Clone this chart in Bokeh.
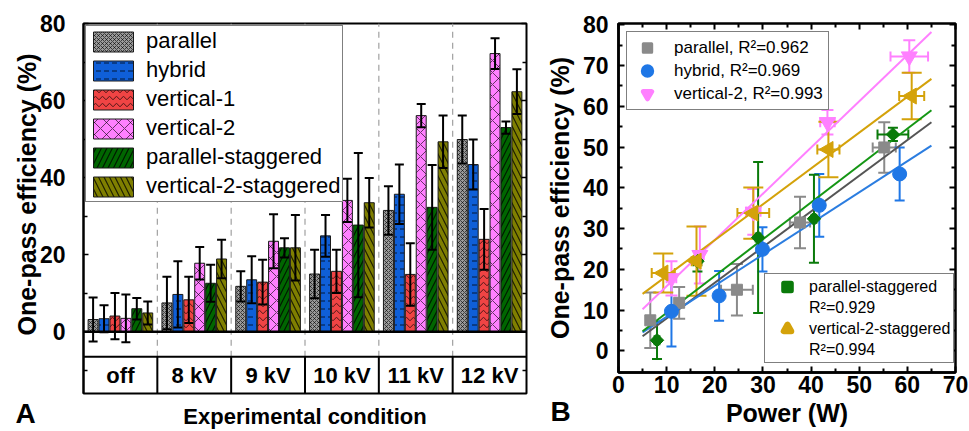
import numpy as np
from bokeh.plotting import figure
from bokeh.models import FixedTicker, LinearAxis, Legend, LegendItem, Span, Range1d, Title
from bokeh.layouts import row
from bokeh.embed import file_html
from bokeh.resources import INLINE
from bokeh.core.properties import value

# ---------------- Panel A data ----------------
categories = ["off", "8 kV", "9 kV", "10 kV", "11 kV", "12 kV"]
series = ["parallel", "hybrid", "vertical-1", "vertical-2",
          "parallel-staggered", "vertical-2-staggered"]
eff_parallel = [3.2, 7.5, 11.8, 15.0, 31.5, 49.9]
err_parallel = [5.7, 6.8, 3.9, 6.3, 6.3, 6.2]
eff_hybrid = [3.4, 9.7, 13.5, 24.9, 35.7, 43.4]
err_hybrid = [3.5, 8.6, 6.1, 5.4, 7.7, 6.5]
eff_vertical1 = [4.1, 8.3, 12.9, 15.7, 14.9, 24.0]
err_vertical1 = [6.0, 6.0, 5.8, 5.6, 8.1, 7.9]
eff_vertical2 = [3.5, 17.8, 23.5, 34.1, 56.1, 72.2]
err_vertical2 = [6.2, 4.2, 7.0, 5.6, 3.0, 4.0]
eff_par_stag = [6.0, 12.6, 21.8, 27.7, 32.3, 53.0]
err_par_stag = [2.8, 4.8, 2.5, 18.7, 11.0, 1.6]
eff_v2_stag = [4.9, 18.9, 21.8, 33.5, 49.3, 62.3]
err_v2_stag = [3.0, 5.0, 8.5, 6.4, 6.8, 5.8]

# ---------------- Panel B data ----------------
pw_parallel = [6.6, 12.6, 24.6, 37.7, 55.2]
pwerr_parallel = [0.5, 0.8, 3.3, 2.1, 2.4]
ef_parallel = [7.5, 11.8, 15.0, 31.5, 49.9]
eferr_parallel = [6.8, 3.9, 6.3, 6.3, 6.2]

pw_hybrid = [11.0, 20.9, 29.9, 41.7, 58.4]
pwerr_hybrid = [0.5, 0.5, 0.8, 0.5, 0.5]
ef_hybrid = [9.7, 13.5, 24.9, 35.7, 43.4]
eferr_hybrid = [8.6, 6.1, 5.4, 7.7, 6.5]

pw_vertical2 = [11.0, 16.9, 28.0, 43.4, 60.4]
pwerr_vertical2 = [1.0, 0.8, 1.5, 1.5, 3.9]
ef_vertical2 = [17.8, 23.5, 34.1, 56.1, 72.2]
eferr_vertical2 = [4.2, 7.0, 5.6, 3.0, 4.0]

pw_par_stag = [8.0, 16.4, 29.0, 40.6, 57.0]
pwerr_par_stag = [0.5, 0.8, 0.5, 0.5, 3.2]
ef_par_stag = [2.6, 22.0, 27.8, 32.4, 53.1]
eferr_par_stag = [4.6, 2.5, 18.5, 10.8, 1.6]

pw_v2_stag = [9.3, 16.2, 28.0, 43.6, 60.9]
pwerr_v2_stag = [2.4, 1.0, 3.3, 2.3, 2.6]
ef_v2_stag = [19.1, 22.0, 33.8, 49.4, 62.5]
eferr_v2_stag = [4.8, 8.5, 6.3, 6.8, 5.7]

legend_top = ["parallel, R\u00b2=0.962", "hybrid, R\u00b2=0.969", "vertical-2, R\u00b2=0.993"]
legend_bottom = ["parallel-staggered", "R\u00b2=0.929", "vertical-2-staggered", "R\u00b2=0.994"]

FONT = "Liberation Sans"


def tick_only_axis(ticker, tick_in, lw):
    """Mirror axis: inward ticks only, no labels, no line."""
    return LinearAxis(ticker=ticker, major_label_text_font_size="1px",
                      major_label_text_color=None, major_label_standoff=0,
                      major_tick_in=tick_in, major_tick_out=0, minor_tick_in=4,
                      minor_tick_out=0, axis_line_color=None,
                      major_tick_line_width=lw, minor_tick_line_width=lw)


# ================= Panel A =================
pA = figure(width=540, height=431, x_range=Range1d(-0.5, 5.5), y_range=Range1d(-16, 80),
            x_axis_type=None, output_backend="svg", toolbar_location=None,
            min_border_left=83, min_border_right=14, min_border_top=23, min_border_bottom=36)
pA.grid.visible = False
pA.outline_line_color = "black"
pA.outline_line_width = 2
pA.background_fill_color = "white"

yt = FixedTicker(ticks=[0, 20, 40, 60, 80], minor_ticks=[-10, 10, 30, 50, 70])
ya = pA.yaxis[0]
ya.ticker = yt
ya.major_label_text_font = FONT
ya.major_label_text_font_style = "bold"
ya.major_label_text_font_size = "23px"
ya.major_label_text_color = "black"
ya.major_label_standoff = 18
ya.major_tick_in = 5
ya.major_tick_out = 0
ya.minor_tick_in = 4
ya.minor_tick_out = 0
ya.axis_line_width = 2
ya.major_tick_line_width = 1.5
ya.minor_tick_line_width = 1.5

pA.add_layout(tick_only_axis(yt, 5, 1.5), "right")

pA.add_layout(Title(text="One-pass efficiency (%)", align="left", offset=58, standoff=-8,
                    text_font=FONT, text_font_style="bold", text_font_size="25px",
                    text_color="black"), "left")

axB = LinearAxis(ticker=FixedTicker(ticks=[]), axis_line_color=None,
                 major_tick_line_color=None, minor_tick_line_color=None,
                 major_tick_in=0, major_tick_out=0, minor_tick_in=0, minor_tick_out=0,
                 major_label_text_font_size="0px", major_label_standoff=0,
                 axis_label="Experimental condition", axis_label_standoff=10,
                 axis_label_text_font=FONT, axis_label_text_font_style="bold",
                 axis_label_text_font_size="22px", axis_label_text_color="black")
pA.add_layout(axB, "below")
pA.add_layout(Title(text="A", align="left", offset=-68, vertical_align="top", standoff=-68,
                    text_font=FONT, text_font_style="bold", text_font_size="28px",
                    text_color="black"), "below")

idx = np.arange(len(categories))
bounds = idx[:-1] + 0.5
box_top = -6.45
box_mid = -11.2

# dashed separators in the plotting area
pA.segment(x0=bounds, y0=box_top, x1=bounds, y1=80, line_color="#a0a0a0",
           line_width=1.2, line_dash="6 5")
# category box
pA.segment(x0=bounds, y0=-16, x1=bounds, y1=box_top, line_color="black", line_width=2)
pA.add_layout(Span(location=box_top, dimension="width", line_color="black", line_width=2))
pA.text(x=idx, y=box_mid, text=categories, text_align="center", text_baseline="middle",
        text_font=value(FONT), text_font_style="bold", text_font_size="22px", text_color="black")

effs = [eff_parallel, eff_hybrid, eff_vertical1, eff_vertical2, eff_par_stag, eff_v2_stag]
errs = [err_parallel, err_hybrid, err_vertical1, err_vertical2, err_par_stag, err_v2_stag]
styles = [
    dict(fill="#9a9a9a", hatch="diagonal_cross", scale=4, weight=0.8),
    dict(fill="#0f5fd8", hatch="horizontal_dash", scale=8, weight=1.0),
    dict(fill="#f04444", hatch="horizontal_wave", scale=7, weight=0.9),
    dict(fill="#ff80ff", hatch="diagonal_cross", scale=12, weight=0.8),
    dict(fill="#006600", hatch="right_diagonal_line", scale=11, weight=1.2),
    dict(fill="#7f7f00", hatch="left_diagonal_line", scale=11, weight=1.2),
]
n = len(series)
slot = 0.148
xs_all = []
for j, (name, vals, st) in enumerate(zip(series, effs, styles)):
    xs = idx + (j - (n - 1) / 2) * slot
    xs_all.append(xs)
    pA.vbar(x=xs, top=vals, bottom=0, width=0.135, fill_color=st["fill"],
            line_color="#1a1a1a", line_width=1, hatch_pattern=st["hatch"],
            hatch_scale=st["scale"], hatch_color="black", hatch_alpha=0.75,
            hatch_weight=st["weight"], legend_label=name)

for xs, vals, er in zip(xs_all, effs, errs):
    lo = np.array(vals) - np.array(er)
    hi = np.array(vals) + np.array(er)
    pA.segment(x0=xs, y0=lo, x1=xs, y1=hi, line_color="black", line_width=2)
    pA.scatter(x=np.r_[xs, xs], y=np.r_[lo, hi], marker="dash", size=9,
               line_color="black", line_width=2)

pA.add_layout(Span(location=0, dimension="width", line_color="black", line_width=2.5))

lg = pA.legend[0]
lg.location = "top_left"
lg.margin = 2
lg.padding = 2
lg.spacing = 3
lg.glyph_width = 50
lg.glyph_height = 25
lg.label_height = 25
lg.label_standoff = 8
lg.label_text_font = FONT
lg.label_text_font_size = "22px"
lg.label_text_color = "black"
lg.border_line_color = "black"
lg.border_line_width = 1.5
lg.background_fill_alpha = 1

# ================= Panel B =================
pB = figure(width=429, height=431, x_range=Range1d(0, 70), y_range=Range1d(-5.3, 80.3),
            output_backend="svg", toolbar_location=None,
            min_border_left=78, min_border_right=14, min_border_top=23, min_border_bottom=59)
pB.grid.visible = False
pB.outline_line_color = "black"
pB.outline_line_width = 2.5

xtk = FixedTicker(ticks=list(range(0, 71, 10)), minor_ticks=list(range(5, 70, 10)))
ytk = FixedTicker(ticks=list(range(0, 81, 10)), minor_ticks=list(range(5, 80, 10)))
for ax, tk in ((pB.xaxis[0], xtk), (pB.yaxis[0], ytk)):
    ax.ticker = tk
    ax.major_label_text_font = FONT
    ax.major_label_text_font_style = "bold"
    ax.major_label_text_font_size = "23px"
    ax.major_label_text_color = "black"
    ax.major_tick_in = 6
    ax.major_tick_out = 0
    ax.minor_tick_in = 4
    ax.minor_tick_out = 0
    ax.axis_line_width = 2.5
    ax.major_tick_line_width = 2
    ax.minor_tick_line_width = 2
    ax.axis_label_text_font = FONT
    ax.axis_label_text_font_style = "bold"
    ax.axis_label_text_font_size = "25px"
    ax.axis_label_text_color = "black"
pB.xaxis.axis_label = "Power (W)"
pB.xaxis.major_label_standoff = 3
pB.xaxis.axis_label_standoff = 3
pB.yaxis.axis_label = "One-pass efficiency (%)"
pB.yaxis.major_label_standoff = 10
pB.yaxis.axis_label_standoff = 6

pB.add_layout(tick_only_axis(xtk, 6, 2), "above")
pB.add_layout(tick_only_axis(ytk, 6, 2), "right")

B_series = [
    (pw_parallel, pwerr_parallel, ef_parallel, eferr_parallel,
     dict(c="#8a8a8a", lc="#555555", marker="square", size=11, angle=0.0, cap=12)),
    (pw_hybrid, pwerr_hybrid, ef_hybrid, eferr_hybrid,
     dict(c="#1f77e6", lc="#2b7de0", marker="circle", size=14, angle=0.0, cap=10)),
    (pw_vertical2, pwerr_vertical2, ef_vertical2, eferr_vertical2,
     dict(c="#ff80ff", lc="#ff80ff", marker="inverted_triangle", size=16, angle=0.0, cap=12)),
    (pw_par_stag, pwerr_par_stag, ef_par_stag, eferr_par_stag,
     dict(c="#0a7a0a", lc="#149614", marker="square", size=9.5, angle=np.pi / 4, cap=10)),
    (pw_v2_stag, pwerr_v2_stag, ef_v2_stag, eferr_v2_stag,
     dict(c="#d4a20a", lc="#d4a20a", marker="triangle", size=16, angle=np.pi / 2, cap=20)),
]

# error bars
for xv, xe, yv, ye, st in B_series:
    xv, xe, yv, ye = map(np.array, (xv, xe, yv, ye))
    pB.segment(x0=xv, y0=yv - ye, x1=xv, y1=yv + ye, line_color=st["c"], line_width=2)
    pB.scatter(x=np.r_[xv, xv], y=np.r_[yv - ye, yv + ye], marker="dash", size=st["cap"],
               line_color=st["c"], line_width=2)
    pB.segment(x0=xv - xe, y0=yv, x1=xv + xe, y1=yv, line_color=st["c"], line_width=2)
    pB.scatter(x=np.r_[xv - xe, xv + xe], y=np.r_[yv, yv], marker="dash", size=10,
               angle=np.pi / 2, line_color=st["c"], line_width=2)

# linear fits
fit_x = np.array([5.0, 65.0])
for xv, xe, yv, ye, st in B_series:
    coef = np.polyfit(xv, yv, 1)
    pB.line(fit_x, np.polyval(coef, fit_x), line_color=st["lc"], line_width=2)

# markers
for xv, xe, yv, ye, st in B_series:
    pB.scatter(x=xv, y=yv, marker=st["marker"], size=st["size"], angle=st["angle"],
               fill_color=st["c"], line_color=st["c"], line_width=1)

# legend-only renderers (one point far outside the ranges, enlarged via outline)
def leg_r(st, lw):
    return pB.scatter(x=[-1000], y=[-1000], marker=st["marker"], angle=st["angle"], size=8,
                      fill_color=st["c"], line_color=st["c"], line_width=lw, line_join="round")

st_list = [s[4] for s in B_series]
r_par = leg_r(st_list[0], 3)
r_hyb = leg_r(st_list[1], 5)
r_v2 = leg_r(st_list[2], 5)
r_ps = leg_r(st_list[3], 5)
r_v2s = leg_r(st_list[4], 6)
r_blank = pB.scatter(x=[-1000], y=[-1000], marker="circle", size=1, fill_alpha=0, line_alpha=0)

leg_common = dict(label_text_font=FONT, label_text_color="black", border_line_color="black",
                  border_line_width=1.2, background_fill_alpha=1)
leg1 = Legend(items=[LegendItem(label=legend_top[0], renderers=[r_par]),
                     LegendItem(label=legend_top[1], renderers=[r_hyb]),
                     LegendItem(label=legend_top[2], renderers=[r_v2])],
              location="top_left", margin=8, padding=5, spacing=2, label_height=21,
              glyph_height=21, glyph_width=30, label_standoff=12,
              label_text_font_size="17px", **leg_common)
pB.add_layout(leg1)
leg2 = Legend(items=[LegendItem(label=legend_bottom[0], renderers=[r_ps]),
                     LegendItem(label=legend_bottom[1], renderers=[r_blank]),
                     LegendItem(label=legend_bottom[2], renderers=[r_v2s]),
                     LegendItem(label=legend_bottom[3], renderers=[r_blank])],
              location=(146, 9), margin=0, padding=3, spacing=2, label_height=19,
              glyph_height=19, glyph_width=38, label_standoff=3,
              label_text_font_size="16px", **leg_common)
pB.add_layout(leg2)

pB.add_layout(Title(text="B", align="left", offset=-68, vertical_align="top", standoff=-68,
                    text_font=FONT, text_font_style="bold", text_font_size="28px",
                    text_color="black"), "below")

for p in (pA, pB):
    try:
        p.frame_align = False
    except Exception:
        pass

layout = row(pA, pB)
open("out.html", "w").write(file_html(layout, INLINE))
